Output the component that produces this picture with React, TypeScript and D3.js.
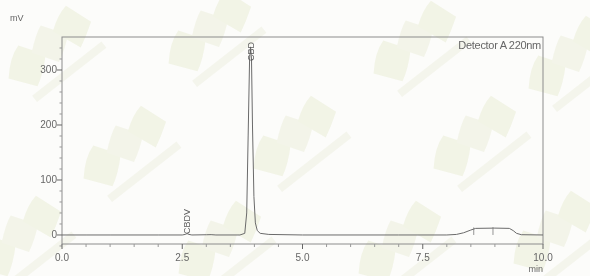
import { line, scaleLinear } from 'd3'

// chromatogram trace (min, mV)
const traceTimes = [
  0, 0.5, 1.0, 2.0, 2.5, 2.56, 2.6, 2.64, 2.7, 3.0, 3.1, 3.2, 3.7, 3.8, 3.84, 3.87, 3.9, 3.92, 3.94,
  3.96, 3.99, 4.02, 4.06, 4.12, 4.3, 5.0, 7.0, 8.0, 8.2, 8.35, 8.5, 8.6, 9.0, 9.3, 9.38, 9.45, 9.55,
  10.0,
]
const traceValues = [
  0, 0, 0, 0, 0, 1, 2.5, 1, 0, 0.4, 0.6, 0, 0, 3, 40, 180, 320, 342, 320, 200, 70, 22, 8, 3, 1, 0, 0,
  0, 1, 4, 9, 12, 12.5, 12, 8, 3, 0.5, 0,
]

const peakLabels = ['CBDV', 'CBD']
const peakTimes = [2.6, 3.92]
const peakHeights = [2.5, 342]

const markerTimes = [8.56, 8.96]
const markerValues = [12, 12.5]

const yTicks = [0, 100, 200, 300]
const yMinorTicks = [-20, 20, 40, 60, 80, 120, 140, 160, 180, 220, 240, 260, 280, 320, 340]
const xTicks = [0, 2.5, 5, 7.5, 10]
const xMinorTicks = [0.5, 1, 1.5, 2, 3, 3.5, 4, 4.5, 5.5, 6, 6.5, 7, 8, 8.5, 9, 9.5]

const detectorLabel = 'Detector A 220nm'
const yUnit = 'mV'
const xUnit = 'min'

// faint background watermark tiles
const watermarkX = [55, 215, 420, 575, 130, 300, 480, 25, 225, 405, 560]
const watermarkY = [60, 45, 55, 70, 160, 150, 150, 250, 255, 255, 245]

export default function App() {
  const width = 590
  const height = 276
  const left = 62
  const right = 543
  const top = 37
  const bottom = 244
  const font = '"Liberation Sans", Arial, sans-serif'
  const ink = '#666'

  const xScale = scaleLinear().domain([0, 10]).range([left, right])
  const yScale = scaleLinear().domain([-16.4, 360]).range([bottom, top])

  const points = traceTimes.map((t, i) => [t, traceValues[i]] as [number, number])
  const tracePath =
    line<[number, number]>()
      .x((d) => xScale(d[0]))
      .y((d) => yScale(d[1]))(points) ?? ''

  return (
    <svg
      width={width}
      height={height}
      style={{ position: 'absolute', left: 0, top: 0, background: '#fcfcfa' }}
    >
      <g opacity={0.4}>
        {watermarkX.map((wx, i) => (
          <g key={`wm-${i}`} transform={`translate(${wx},${watermarkY[i]}) rotate(-38)`}>
            <path d="M-48,-14 Q-34,-30 -20,-34 L-4,-10 Q-18,4 -30,10 Z" fill="#e3e8c8" />
            <path d="M-14,-20 Q0,-32 10,-36 L26,-12 Q14,-2 2,4 Z" fill="#e6e9d0" />
            <path d="M16,-24 Q30,-34 42,-36 L52,-8 Q40,0 28,6 Z" fill="#e3e8c8" />
            <rect x={-40} y={14} width={88} height={8} fill="#e9ebd8" />
          </g>
        ))}
      </g>

      <rect x={left} y={top} width={right - left} height={bottom - top} fill="none" stroke="#8c8c8c" strokeWidth={1} />

      {yTicks.map((v) => (
        <g key={`yt-${v}`}>
          <line x1={left - 5} x2={left} y1={yScale(v)} y2={yScale(v)} stroke={ink} />
          <text
            x={left - 5}
            y={yScale(v)}
            dy="0.35em"
            textAnchor="end"
            fontFamily={font}
            fontSize={10}
            fill={ink}
          >
            {v}
          </text>
        </g>
      ))}
      {yMinorTicks.map((v) => (
        <line key={`ym-${v}`} x1={left - 2.5} x2={left} y1={yScale(v)} y2={yScale(v)} stroke="#999" />
      ))}

      {xTicks.map((v) => (
        <g key={`xt-${v}`}>
          <line x1={xScale(v)} x2={xScale(v)} y1={bottom} y2={bottom + 5} stroke={ink} />
          <text
            x={xScale(v)}
            y={bottom + 17}
            textAnchor="middle"
            fontFamily={font}
            fontSize={10}
            fill={ink}
          >
            {v.toFixed(1)}
          </text>
        </g>
      ))}
      {xMinorTicks.map((v) => (
        <line key={`xm-${v}`} x1={xScale(v)} x2={xScale(v)} y1={bottom} y2={bottom + 3} stroke="#999" />
      ))}

      <text x={10} y={21} fontFamily={font} fontSize={9} fill={ink}>
        {yUnit}
      </text>
      <text x={right} y={bottom + 28} textAnchor="end" fontFamily={font} fontSize={9} fill={ink}>
        {xUnit}
      </text>
      <text
        x={right - 2}
        y={top + 12}
        textAnchor="end"
        fontFamily={font}
        fontSize={11}
        letterSpacing={-0.3}
        fill={ink}
      >
        {detectorLabel}
      </text>

      <path d={tracePath} fill="none" stroke="#6a6a6a" strokeWidth={1} />

      {markerTimes.map((t, i) => (
        <line
          key={`mk-${t}`}
          x1={xScale(t)}
          x2={xScale(t)}
          y1={yScale(0)}
          y2={yScale(markerValues[i]) - 1}
          stroke="#7a7a7a"
          strokeWidth={0.8}
        />
      ))}

      {peakLabels.map((label, i) => (
        <text
          key={label}
          transform={`translate(${xScale(peakTimes[i]) + 3},${Math.min(
            yScale(peakHeights[i]) + 14,
            yScale(0) - 1,
          )}) rotate(-90)`}
          fontFamily={font}
          fontSize={9}
          fill="#5a5a5a"
        >
          {label}
        </text>
      ))}
    </svg>
  )
}
